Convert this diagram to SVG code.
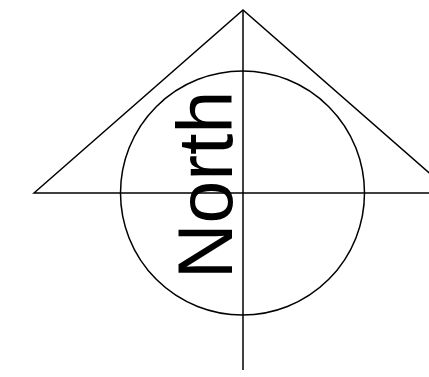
<svg xmlns="http://www.w3.org/2000/svg" width="429" height="377" viewBox="0 0 429 377">
<style>
.s{fill:none;stroke:#000;stroke-width:1.5}
.t{font-family:"Liberation Sans",Arial,sans-serif;font-size:77px;fill:#000}
</style>
<rect width="429" height="377" fill="#fff"/>
<g id="triangle"><path class="s" d="M34,193 L243,10 L452,193 Z"/></g>
<g id="circle"><circle class="s" cx="242.5" cy="193" r="122"/></g>
<g id="axes"><line class="s" x1="243" y1="10" x2="243" y2="370"/></g>
<g id="label"><text class="t" transform="translate(232,279) rotate(-90)">North</text></g>
</svg>
